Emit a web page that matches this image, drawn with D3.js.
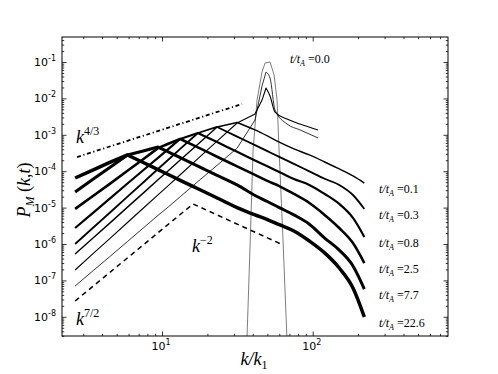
<!DOCTYPE html>
<html>
<head>
<meta charset="utf-8">
<script src="https://cdn.jsdelivr.net/npm/d3@7"></script>
<style>
  body { margin: 0; background: #fff; }
  text { fill: #000; }
</style>
</head>
<body>
<script>
// spectra, k/k1 on x, P_M on y
var kGrid  = [2.65, 3.5, 4.5, 5.9, 7.5, 9.4, 11, 13.2, 17.3, 23.2, 31.5, 41.4, 50, 60, 75, 95, 120, 150, 185, 220];
var kEarly = [2.65, 3.5, 4.5, 5.9, 7.5, 9.4, 11, 13.2, 17.3, 23.2, 31.5, 41.4, 46.1, 49.0, 52.1, 56.2, 67.5, 82.4, 108.4];
var kInit  = [36.6, 38.4, 40.2, 42.7, 46.1, 48.3, 52.1, 55.4, 58.0, 59.8, 63.5, 67.5];

var pInit   = [2.3e-9, 9.4e-7, 3.8e-4, 9.0e-3, 5.3e-2, 9.4e-2, 0.1, 4.4e-2, 9.0e-3, 3.8e-4, 1.3e-6, 2.3e-9];
var pEarly1 = [7.0e-8, 1.87e-7, 4.5e-7, 1.17e-6, 2.74e-6, 6.1e-6, 1.04e-5, 1.99e-5, 5.2e-5, 1.45e-4, 4.3e-4, 2.55e-3, 2.2e-2, 5.3e-2, 3.6e-2, 4.8e-3, 1.98e-3, 1.36e-3, 8.2e-4];
var pEarly2 = [1.93e-7, 5.5e-7, 1.41e-6, 3.9e-6, 9.6e-6, 2.25e-5, 4.0e-5, 8.0e-5, 2.22e-4, 6.7e-4, 2.11e-3, 3.7e-3, 9.0e-3, 1.93e-2, 1.16e-2, 4.2e-3, 2.72e-3, 1.98e-3, 1.36e-3];

var p01  = [5.3e-7, 1.49e-6, 3.75e-6, 1.03e-5, 2.5e-5, 5.8e-5, 1.03e-4, 2.03e-4, 5.5e-4, 1.64e-3, 2.18e-3, 1.36e-3, 9.3e-4, 6.3e-4, 4.1e-4, 2.79e-4, 1.79e-4, 1.15e-4, 7.4e-5, 4.7e-5];
var p03  = [1.0e-6, 2.84e-6, 7.2e-6, 2.0e-5, 4.9e-5, 1.15e-4, 2.06e-4, 4.1e-4, 1.12e-3, 1.64e-3, 8.9e-4, 5.2e-4, 3.56e-4, 2.47e-4, 1.59e-4, 9.9e-5, 6.2e-5, 4.2e-5, 2.22e-5, 9.2e-6];
var p08  = [2.75e-6, 7.3e-6, 1.76e-5, 4.6e-5, 1.06e-4, 2.33e-4, 4.05e-4, 7.7e-4, 1.12e-3, 6.3e-4, 3.4e-4, 1.98e-4, 1.36e-4, 9.5e-5, 6.1e-5, 4.2e-5, 2.37e-5, 1.26e-5, 5.2e-6, 1.56e-6];
var p25  = [9.2e-6, 2.12e-5, 4.5e-5, 1.03e-4, 2.14e-4, 4.3e-4, 5.7e-4, 7.7e-4, 4.5e-4, 2.5e-4, 1.36e-4, 7.9e-5, 5.4e-5, 3.9e-5, 2.37e-5, 1.34e-5, 6.3e-6, 2.75e-6, 1.06e-6, 3.0e-7];
var p77  = [2.69e-5, 6.1e-5, 1.27e-4, 2.79e-4, 3.6e-4, 4.6e-4, 3.4e-4, 2.35e-4, 1.37e-4, 7.7e-5, 4.2e-5, 2.15e-5, 1.47e-5, 1.0e-5, 6.3e-6, 3.5e-6, 1.46e-6, 6.8e-7, 2.5e-7, 5.8e-8];
var p226 = [6.5e-5, 1.09e-4, 1.75e-4, 2.79e-4, 1.73e-4, 1.11e-4, 8.1e-5, 5.6e-5, 3.3e-5, 1.84e-5, 1.0e-5, 6.3e-6, 4.7e-6, 3.4e-6, 2.28e-6, 1.21e-6, 5.7e-7, 2.19e-7, 6.2e-8, 9.9e-9];

var timeLabels = ["0.1", "0.3", "0.8", "2.5", "7.7", "22.6"];

// guide power laws
var k43K = [2.73, 33.96], k43P = [2.45e-4, 7.02e-3];
var guideK = [2.65, 16.06, 63.5], guideP = [2.72e-8, 1.26e-5, 9.4e-7];

var yMajor = [1e-8, 1e-7, 1e-6, 1e-5, 1e-4, 1e-3, 1e-2, 1e-1];
var xMajor = [10, 100];

var W = 498, H = 374,
    padL = 62, padR = 448, padT = 37, padB = 336;

var svg = d3.select("body").append("svg")
  .attr("width", W)
  .attr("height", H);

var x = d3.scaleLog().domain([2.169, 790]).range([padL, padR]);
var y = d3.scaleLog().domain([2.97e-9, 0.486]).range([padB, padT]);

svg.append("clipPath").attr("id", "plot")
  .append("rect")
  .attr("x", padL).attr("y", padT)
  .attr("width", padR - padL).attr("height", padB - padT);

var g = svg.append("g").attr("clip-path", "url(#plot)");

function line(ks, ps) {
  return d3.line()
    .x(function(d, i) { return x(ks[i]); })
    .y(function(d) { return y(d); })(ps);
}

// straight up to the peak, smooth roll-off after it
function spectrum(ks, ps, width, colour) {
  var pk = d3.maxIndex(ps);
  var pts = ks.map(function(k, i) { return [x(k), y(ps[i])]; });
  var up = d3.line()(pts.slice(0, pk + 1));
  var down = d3.line().curve(d3.curveMonotoneX)(pts.slice(pk));
  g.append("path")
    .attr("d", up + "L" + down.slice(1))
    .attr("fill", "none")
    .attr("stroke", colour)
    .attr("stroke-width", width)
    .attr("stroke-linejoin", "round");
}

// initial spectrum (grey)
g.append("path")
  .attr("d", line(kInit, pInit))
  .attr("fill", "none")
  .attr("stroke", "#6e6e6e")
  .attr("stroke-width", 0.9);

// early unlabeled spectra
spectrum(kEarly, pEarly1, 0.8, "#000");
spectrum(kEarly, pEarly2, 1.1, "#000");

var series = [p01, p03, p08, p25, p77, p226];
var widths = [1.4, 1.8, 2.2, 2.6, 3.0, 3.5];
series.forEach(function(ps, i) {
  spectrum(kGrid, ps, widths[i], "#000");
});

// guide lines
g.append("path")
  .attr("d", line(k43K, k43P))
  .attr("fill", "none")
  .attr("stroke", "#000")
  .attr("stroke-width", 1.8)
  .attr("stroke-dasharray", "4,2.6,1.2,2.6");

g.append("path")
  .attr("d", line(guideK, guideP))
  .attr("fill", "none")
  .attr("stroke", "#000")
  .attr("stroke-width", 1.5)
  .attr("stroke-dasharray", "5,4");

// ticks on all four sides, pointing in
var xMinor = x.ticks().filter(function(v) { return xMajor.indexOf(v) < 0; });
var yMinor = y.ticks().filter(function(v) {
  return yMajor.every(function(m) { return Math.abs(v / m - 1) > 1e-6; });
});

function ticks(axis, vals, size) {
  return axis.tickValues(vals).tickSize(-size).tickFormat("");
}
function addAxis(ax, tx, ty) {
  var a = svg.append("g").attr("transform", "translate(" + tx + "," + ty + ")").call(ax);
  a.select(".domain").remove();
  a.selectAll("line").attr("stroke", "#000").attr("stroke-width", 0.8);
}
[[xMajor, 4.5], [xMinor, 2.2]].forEach(function(t) {
  addAxis(ticks(d3.axisBottom(x), t[0], t[1]), 0, padB);
  addAxis(ticks(d3.axisTop(x), t[0], t[1]), 0, padT);
});
[[yMajor, 4.5], [yMinor, 2.2]].forEach(function(t) {
  addAxis(ticks(d3.axisLeft(y), t[0], t[1]), padL, 0);
  addAxis(ticks(d3.axisRight(y), t[0], t[1]), padR, 0);
});

svg.append("rect")
  .attr("x", padL).attr("y", padT)
  .attr("width", padR - padL).attr("height", padB - padT)
  .attr("fill", "none")
  .attr("stroke", "#000")
  .attr("stroke-width", 1);

// tick labels 10^n
var sans = "'DejaVu Sans', sans-serif";
yMajor.forEach(function(v) {
  var t = svg.append("text")
    .attr("x", padL - 6)
    .attr("y", y(v) + 4)
    .attr("text-anchor", "end")
    .style("font-family", sans)
    .style("font-size", "11px");
  t.append("tspan").text("10");
  t.append("tspan").attr("dy", -5).style("font-size", "8px").text(String(Math.round(Math.log10(v))));
});
xMajor.forEach(function(v) {
  var t = svg.append("text")
    .attr("x", x(v) - 1)
    .attr("y", padB + 14)
    .attr("text-anchor", "middle")
    .style("font-family", sans)
    .style("font-size", "11px");
  t.append("tspan").text("10");
  t.append("tspan").attr("dy", -5).style("font-size", "8px").text(Math.round(Math.log10(v)));
});

var serif = "'Liberation Serif', 'DejaVu Serif', serif";

// axis titles
var yl = svg.append("text")
  .attr("transform", "translate(30,190) rotate(-90)")
  .attr("text-anchor", "middle")
  .style("font-family", serif)
  .style("font-size", "18px");
yl.append("tspan").style("font-style", "italic").text("P");
yl.append("tspan").attr("dy", 4).style("font-size", "12px").style("font-style", "italic").text("M");
yl.append("tspan").attr("dy", -4).text(" (");
yl.append("tspan").style("font-style", "italic").text("k");
yl.append("tspan").text(",");
yl.append("tspan").style("font-style", "italic").text("t");
yl.append("tspan").text(")");

var xl = svg.append("text")
  .attr("x", 254).attr("y", 365)
  .attr("text-anchor", "middle")
  .style("font-family", serif)
  .style("font-size", "18px")
  .style("font-style", "italic");
xl.append("tspan").text("k/k");
xl.append("tspan").attr("dy", 4).style("font-size", "12px").style("font-style", "normal").text("1");

// power-law annotations
function powerLabel(px, py, sup) {
  var t = svg.append("text")
    .attr("x", px).attr("y", py)
    .style("font-family", serif)
    .style("font-size", "18px");
  t.append("tspan").style("font-style", "italic").text("k");
  t.append("tspan").attr("dy", -8).style("font-size", "12px").text(sup);
}
powerLabel(76, 143, "4/3");
powerLabel(192, 252, "\u22122");
powerLabel(76, 325, "7/2");

// time labels
function timeLabel(px, py, val) {
  var t = svg.append("text")
    .attr("x", px).attr("y", py)
    .style("font-family", serif)
    .style("font-size", "12px");
  t.append("tspan").style("font-style", "italic").text("t/t");
  t.append("tspan").attr("dy", 3).style("font-size", "8px").style("font-style", "italic").text("A");
  t.append("tspan").attr("dy", -3).text(" =" + val);
}
timeLabel(290, 63, "0.0");
series.forEach(function(ps, i) {
  timeLabel(379, y(ps[ps.length - 1]) + 10, timeLabels[i]);
});
</script>
</body>
</html>
